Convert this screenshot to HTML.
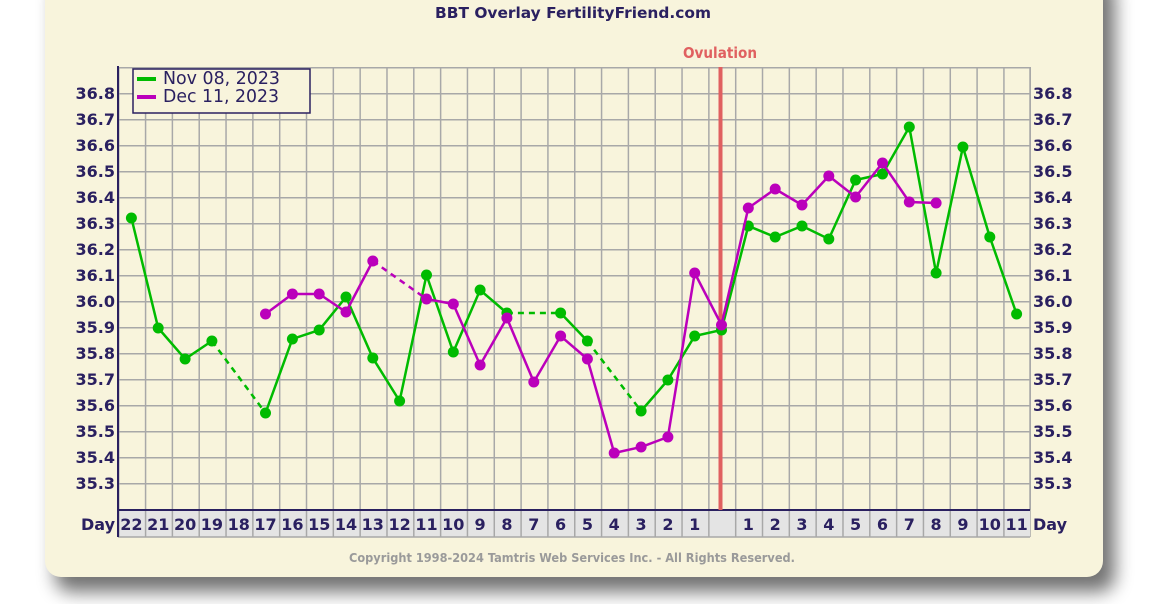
<!DOCTYPE html>
<html><head><meta charset="utf-8"><style>
html,body{margin:0;padding:0;background:#fff;}
svg{display:block;font-family:"DejaVu Sans","Liberation Sans",sans-serif;}
</style></head><body>
<svg width="1170" height="604" viewBox="0 0 1170 604" xmlns="http://www.w3.org/2000/svg">
<defs>
<filter id="sh" x="-10%" y="-10%" width="125%" height="130%"><feGaussianBlur stdDeviation="9"/></filter>
<pattern id="gp" x="118" y="67" width="26.8235" height="26" patternUnits="userSpaceOnUse">
<path d="M0.75 0V26M0 0.75H26.8235" stroke="#a8a8a8" stroke-width="1.5" fill="none"/>
</pattern>
<pattern id="cp" x="118" y="510" width="26.8235" height="27" patternUnits="userSpaceOnUse">
<rect width="26.8235" height="27" fill="#e4e4e4"/>
<path d="M0.75 0V27" stroke="#a8a8a8" stroke-width="1.5"/>
</pattern>
<marker id="mg" markerUnits="userSpaceOnUse" markerWidth="12" markerHeight="12" refX="6" refY="6"><circle cx="6" cy="6" r="5.5" fill="#00bb00"/></marker>
<marker id="mm" markerUnits="userSpaceOnUse" markerWidth="12" markerHeight="12" refX="6" refY="6"><circle cx="6" cy="6" r="5.5" fill="#bb00bb"/></marker>
</defs>
<rect x="55" y="-20" width="1060" height="612" rx="16" fill="#000" opacity="0.55" filter="url(#sh)"/>
<rect x="45" y="-20" width="1058" height="597" rx="16" fill="#f8f4dc"/>
<text x="573" y="18" text-anchor="middle" font-size="15.5" font-weight="bold" fill="#2a2060" textLength="276" lengthAdjust="spacingAndGlyphs">BBT Overlay FertilityFriend.com</text>
<text x="720" y="58" text-anchor="middle" font-size="15" font-weight="bold" fill="#e06060" textLength="74" lengthAdjust="spacingAndGlyphs">Ovulation</text>
<rect x="118" y="67" width="913" height="443" fill="url(#gp)"/>
<line x1="1030" y1="67" x2="1030" y2="537" stroke="#a8a8a8" stroke-width="1.5"/>
<rect x="118" y="510" width="912" height="27" fill="url(#cp)"/>
<line x1="118" y1="537" x2="1030" y2="537" stroke="#a8a8a8" stroke-width="1.5"/>
<line x1="118" y1="66" x2="118" y2="537" stroke="#2a2060" stroke-width="2"/>
<line x1="118" y1="510" x2="1030" y2="510" stroke="#2a2060" stroke-width="2"/>
<line x1="720.5" y1="67" x2="720.5" y2="510" stroke="#e06060" stroke-width="4"/>
<g font-size="16" font-weight="bold" fill="#2a2060" text-anchor="end">
<text x="115" y="99">36.8</text><text x="115" y="125">36.7</text><text x="115" y="151">36.6</text><text x="115" y="177">36.5</text><text x="115" y="203">36.4</text><text x="115" y="229">36.3</text><text x="115" y="255">36.2</text><text x="115" y="281">36.1</text><text x="115" y="307">36.0</text><text x="115" y="333">35.9</text><text x="115" y="359">35.8</text><text x="115" y="385">35.7</text><text x="115" y="411">35.6</text><text x="115" y="437">35.5</text><text x="115" y="463">35.4</text><text x="115" y="489">35.3</text><text x="115" y="530">Day</text>
</g>
<g font-size="16" font-weight="bold" fill="#2a2060">
<text x="1033" y="99">36.8</text><text x="1033" y="125">36.7</text><text x="1033" y="151">36.6</text><text x="1033" y="177">36.5</text><text x="1033" y="203">36.4</text><text x="1033" y="229">36.3</text><text x="1033" y="255">36.2</text><text x="1033" y="281">36.1</text><text x="1033" y="307">36.0</text><text x="1033" y="333">35.9</text><text x="1033" y="359">35.8</text><text x="1033" y="385">35.7</text><text x="1033" y="411">35.6</text><text x="1033" y="437">35.5</text><text x="1033" y="463">35.4</text><text x="1033" y="489">35.3</text><text x="1033" y="530">Day</text>
</g>
<g font-size="16" font-weight="bold" fill="#2a2060" text-anchor="middle">
<text x="131.4" y="530">22</text><text x="158.2" y="530">21</text><text x="185.1" y="530">20</text><text x="211.9" y="530">19</text><text x="238.7" y="530">18</text><text x="265.5" y="530">17</text><text x="292.4" y="530">16</text><text x="319.2" y="530">15</text><text x="346.0" y="530">14</text><text x="372.8" y="530">13</text><text x="399.6" y="530">12</text><text x="426.5" y="530">11</text><text x="453.3" y="530">10</text><text x="480.1" y="530">9</text><text x="506.9" y="530">8</text><text x="533.8" y="530">7</text><text x="560.6" y="530">6</text><text x="587.4" y="530">5</text><text x="614.2" y="530">4</text><text x="641.1" y="530">3</text><text x="667.9" y="530">2</text><text x="694.7" y="530">1</text>
<text x="748.3" y="530">1</text><text x="775.2" y="530">2</text><text x="802.0" y="530">3</text><text x="828.8" y="530">4</text><text x="855.6" y="530">5</text><text x="882.5" y="530">6</text><text x="909.3" y="530">7</text><text x="936.1" y="530">8</text><text x="962.9" y="530">9</text><text x="989.8" y="530">10</text><text x="1016.6" y="530">11</text>
</g>
<g fill="none" stroke="#00bb00" stroke-width="2.5" marker-start="url(#mg)" marker-mid="url(#mg)" marker-end="url(#mg)">
<polyline points="131.4,218 158.2,328 185.1,359 211.9,341"/>
<polyline points="265.5,413 292.4,339 319.2,330 346.0,297 372.8,358 399.6,401 426.5,275 453.3,352 480.1,290 506.9,313"/>
<polyline points="560.6,313 587.4,341"/>
<polyline points="641.1,411 667.9,380 694.7,336 721.5,330 748.3,226 775.2,237 802.0,226 828.8,239 855.6,180 882.5,174 909.3,127 936.1,273 962.9,147 989.8,237 1016.6,314"/>
</g>
<g stroke="#00bb00" stroke-width="2.5" stroke-dasharray="6,5">
<line x1="211.9" y1="341" x2="265.5" y2="413"/><line x1="506.9" y1="313" x2="560.6" y2="313"/><line x1="587.4" y1="341" x2="641.1" y2="411"/>
</g>
<g fill="none" stroke="#bb00bb" stroke-width="2.5" marker-start="url(#mm)" marker-mid="url(#mm)" marker-end="url(#mm)">
<polyline points="265.5,314 292.4,294 319.2,294 346.0,312 372.8,261"/>
<polyline points="426.5,299 453.3,304 480.1,365 506.9,318 533.8,382 560.6,336 587.4,359 614.2,453 641.1,447 667.9,437 694.7,273 721.5,325 748.3,208 775.2,189 802.0,205 828.8,176 855.6,197 882.5,163 909.3,202 936.1,203"/>
</g>
<line x1="372.8" y1="261" x2="426.5" y2="299" stroke="#bb00bb" stroke-width="2.5" stroke-dasharray="6,5"/>
<rect x="133" y="69" width="177" height="44" fill="#f8f4dc" stroke="#2a2060" stroke-width="1.5"/>
<line x1="137" y1="79" x2="156" y2="79" stroke="#00bb00" stroke-width="4"/>
<line x1="137" y1="97" x2="156" y2="97" stroke="#bb00bb" stroke-width="4"/>
<text x="163" y="84" font-size="17.5" fill="#2a2060" textLength="117" lengthAdjust="spacingAndGlyphs">Nov 08, 2023</text>
<text x="163" y="102" font-size="17.5" fill="#2a2060" textLength="116" lengthAdjust="spacingAndGlyphs">Dec 11, 2023</text>
<text x="572" y="562" text-anchor="middle" font-size="12.5" font-weight="bold" fill="#9a9a9a" textLength="446" lengthAdjust="spacingAndGlyphs">Copyright 1998-2024 Tamtris Web Services Inc. - All Rights Reserved.</text>
</svg>
</body></html>
